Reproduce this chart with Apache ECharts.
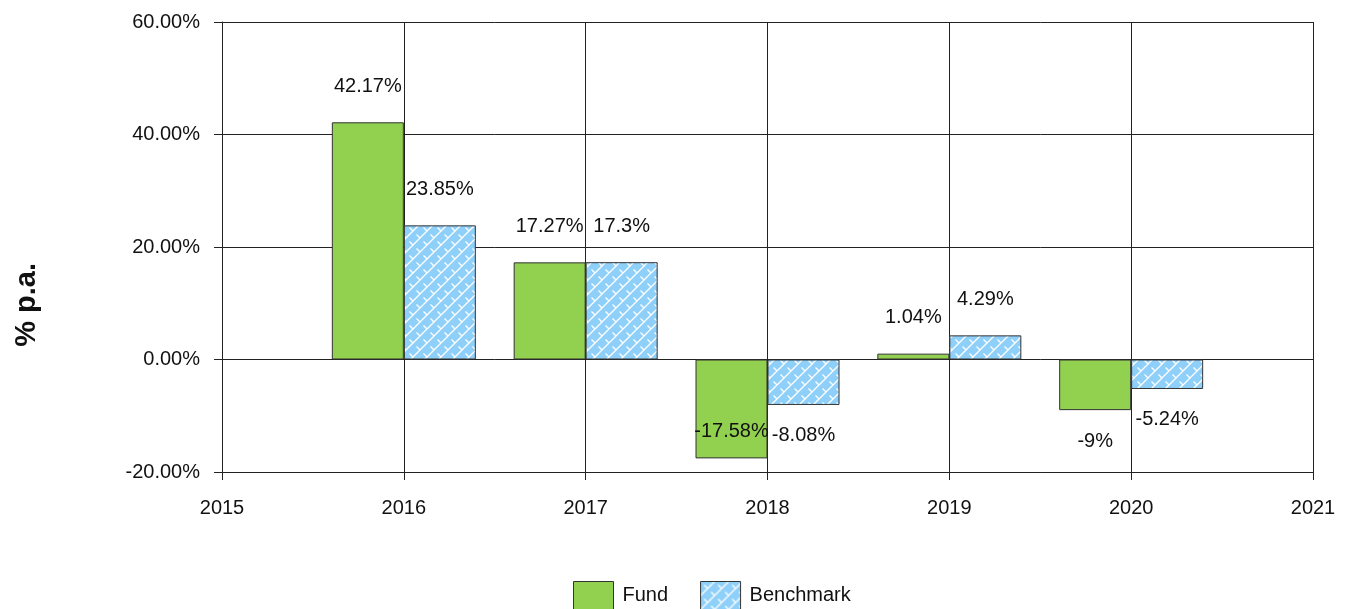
<!DOCTYPE html>
<html>
<head>
<meta charset="utf-8">
<script src="https://cdn.jsdelivr.net/npm/echarts@6/dist/echarts.min.js"></script>
<style>
  html, body { margin: 0; padding: 0; background: #fff; }
  #chart { width: 1345px; height: 609px; }
</style>
</head>
<body>
<div id="chart"></div>
<script>
var years = ['2015', '2016', '2017', '2018', '2019', '2020', '2021']
var fund = [null, 42.17, 17.27, -17.58, 1.04, -9, null]
var benchmark = [null, 23.85, 17.3, -8.08, 4.29, -5.24, null]
var yTicks = { min: -20, max: 60, step: 20 }

// brick-like hatch for the benchmark bars
function makeHatch () {
	var c = document.createElement('canvas')
	c.width = 14
	c.height = 14
	var ctx = c.getContext('2d')
	ctx.fillStyle = '#8fd0fa'
	ctx.fillRect(0, 0, 14, 14)
	ctx.strokeStyle = '#ffffff'
	ctx.lineWidth = 1.3
	ctx.beginPath()
	// "/" lines
	ctx.moveTo(-1, 15); ctx.lineTo(15, -1)
	ctx.moveTo(-8, 8); ctx.lineTo(8, -8)
	ctx.moveTo(6, 22); ctx.lineTo(22, 6)
	// short "\" joints
	ctx.moveTo(3.5, 3.5); ctx.lineTo(7, 7)
	ctx.moveTo(10.5, 10.5); ctx.lineTo(14, 14)
	ctx.moveTo(-3.5, 10.5); ctx.lineTo(0, 14)
	ctx.stroke()
	return c
}

function fmtLabel (p) {
	return p.value + '%'
}

function withLabels (arr, name) {
	return arr.map(function (v) {
		if (v === null) return '-'
		var item = { value: v }
		if (v >= 0) {
			item.label = { position: 'top', distance: 26 }
		} else if (name === 'Fund' && v < -15) {
			item.label = { position: 'insideBottom', distance: 17 }
		} else {
			item.label = { position: 'bottom', distance: 21 }
		}
		return item
	})
}

var myCharts = echarts.init(document.getElementById('chart'))
var font = 'Liberation Sans, Arial, sans-serif'
var gridLine = { show: true, lineStyle: { color: '#222', width: 1 } }
var hatch = makeHatch()

myCharts.setOption({
	animation: false,
	textStyle: { fontFamily: font },
	grid: { left: 222, right: 32, top: 22, bottom: 137 },
	graphic: [{
		type: 'text',
		left: 12,
		top: 263,
		rotation: Math.PI / 2,
		style: { text: '% p.a.', font: 'bold 29px ' + font, fill: '#111' }
	}],
	legend: {
		top: 581,
		left: 573,
		padding: 0,
		itemWidth: 40,
		itemHeight: 28,
		itemGap: 32,
		icon: 'rect',
		textStyle: { fontSize: 20, color: '#111', fontFamily: font, padding: [0, 0, 0, 4] },
		data: [
			{ name: 'Fund', itemStyle: { borderColor: '#333', borderWidth: 1 } },
			{ name: 'Benchmark', itemStyle: { borderColor: '#333', borderWidth: 1 } }
		]
	},
	xAxis: {
		type: 'category',
		data: years,
		boundaryGap: false,
		axisLine: { onZero: false, lineStyle: { color: '#222' } },
		axisTick: { show: true, length: 8, lineStyle: { color: '#222' } },
		axisLabel: { color: '#111', fontSize: 20, margin: 26, interval: 0 },
		splitLine: gridLine
	},
	yAxis: {
		type: 'value',
		min: yTicks.min,
		max: yTicks.max,
		interval: yTicks.step,
		axisLine: { show: true, lineStyle: { color: '#222' } },
		axisTick: { show: true, length: 8, lineStyle: { color: '#222' } },
		axisLabel: {
			color: '#111', fontSize: 20, margin: 22,
			formatter: function (v) { return v.toFixed(2) + '%' }
		},
		splitLine: gridLine
	},
	series: [
		{
			name: 'Fund',
			type: 'bar',
			barWidth: 72,
			barGap: 0,
			data: withLabels(fund, 'Fund'),
			itemStyle: { color: '#92d050', borderColor: '#333', borderWidth: 1 },
			label: { show: true, fontSize: 20, color: '#111', formatter: fmtLabel }
		},
		{
			name: 'Benchmark',
			type: 'bar',
			barWidth: 72,
			barGap: 0,
			data: withLabels(benchmark, 'Benchmark'),
			itemStyle: { color: { image: hatch, repeat: 'repeat' }, borderColor: '#333', borderWidth: 1 },
			label: { show: true, fontSize: 20, color: '#111', formatter: fmtLabel }
		}
	]
})
</script>
</body>
</html>
